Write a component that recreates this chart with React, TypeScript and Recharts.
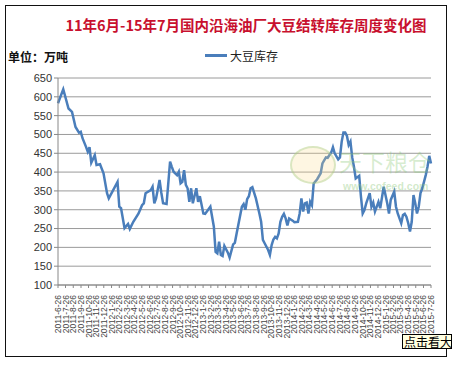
import { LineChart, Line, XAxis, YAxis, CartesianGrid, Legend } from "recharts";

// weeks counted from 2011-6-26, soybean stock in 10k tonnes
const weeks = [
  0, 3, 6, 8, 10, 12, 13, 14, 16, 17, 18, 19, 21, 22, 24, 26, 28, 29, 34, 35,
  36, 38, 40, 41, 43, 46, 48, 49, 50, 53, 54, 55, 56, 58, 59, 60, 62, 64, 65, 66,
  68, 69, 70, 71, 72, 73, 74, 75, 76, 77, 79, 80, 81, 83, 84, 87, 89, 90, 91, 92,
  93, 94, 95, 97, 98, 100, 101, 102, 105, 106, 107, 108, 109, 110, 111, 113, 115,
  116, 117, 118, 120, 121, 122, 123, 124, 125, 126, 127, 128, 129, 130, 131, 132,
  134, 135, 137, 138, 139, 140, 141, 142, 143, 144, 145, 146, 148, 150, 151, 153,
  154, 156, 157, 158, 160, 161, 162, 163, 164, 165, 166, 167, 168, 169, 170, 172,
  173, 174, 175, 176, 178, 179, 180, 181, 183, 184, 186, 188, 189, 190, 192, 193,
  194, 196, 197, 198, 199, 200, 201, 202, 203, 204, 205, 206, 207, 208, 209, 210,
  211, 212, 213,
];

const stock = [
  583, 620, 569, 560, 520, 505, 507, 490, 467, 454, 466, 425, 445, 419, 421, 397,
  344, 330, 374, 308, 304, 251, 262, 249, 268, 290, 312, 317, 344, 352, 361, 317,
  330, 379, 345, 317, 315, 428, 414, 401, 392, 401, 370, 374, 405, 366, 357, 321,
  357, 317, 357, 321, 336, 290, 289, 308, 255, 188, 184, 215, 180, 177, 204, 186,
  173, 208, 212, 237, 308, 315, 300, 328, 336, 357, 360, 330, 290, 268, 220, 211,
  193, 180, 206, 221, 228, 224, 237, 268, 281, 289, 277, 258, 277, 271, 267, 268,
  290, 330, 295, 317, 319, 290, 321, 312, 370, 381, 397, 423, 439, 438, 452, 466,
  450, 434, 439, 481, 505, 505, 496, 472, 481, 439, 414, 383, 390, 335, 290, 299,
  317, 344, 308, 319, 295, 321, 304, 361, 317, 290, 326, 348, 308, 290, 264, 286,
  289, 281, 264, 242, 268, 339, 317, 290, 308, 344, 357, 374, 392, 414, 443, 423,
];

const dateLabels = [
  "2011-6-26", "2011-7-26", "2011-8-26", "2011-9-26", "2011-10-26", "2011-11-26", "2011-12-26",
  "2012-1-26", "2012-2-26", "2012-3-26", "2012-4-26", "2012-5-26", "2012-6-26",
  "2012-7-26", "2012-8-26", "2012-9-26", "2012-10-26", "2012-11-26", "2012-12-26",
  "2013-1-26", "2013-2-26", "2013-3-26", "2013-4-26", "2013-5-26", "2013-6-26",
  "2013-7-26", "2013-8-26", "2013-9-26", "2013-10-26", "2013-11-26", "2013-12-26",
  "2014-1-26", "2014-2-26", "2014-3-26", "2014-4-26", "2014-5-26", "2014-6-26",
  "2014-7-26", "2014-8-26", "2014-9-26", "2014-10-26", "2014-11-26", "2014-12-26",
  "2015-1-26", "2015-2-26", "2015-3-26", "2015-4-26", "2015-5-26", "2015-6-26", "2015-7-26",
];

const yTicks = [100, 150, 200, 250, 300, 350, 400, 450, 500, 550, 600, 650];

const toWeek = (s: string) => {
  const [y, m, d] = s.split("-").map(Number);
  return (Date.UTC(y, m - 1, d) - Date.UTC(2011, 5, 26)) / (7 * 86400000);
};

const tickWeeks = dateLabels.map(toWeek);
const labelByWeek = new Map(tickWeeks.map((w, i) => [w, dateLabels[i]]));

const data = weeks.map((w, i) => ({ week: w, stock: stock[i] }));

const font = "'Liberation Sans', Arial, sans-serif";
const cjk = "'Noto Sans CJK SC', 'Noto Sans', sans-serif";

function DateTick({ x, y, payload }: any) {
  return (
    <text
      x={x}
      y={y + 5}
      transform={`rotate(-90 ${x} ${y + 5})`}
      textAnchor="end"
      dominantBaseline="central"
      fontSize={8.5}
      fontFamily={font}
      fill="#444"
    >
      {labelByWeek.get(payload.value) ?? ""}
    </text>
  );
}

export default function App() {
  return (
    <div
      style={{
        position: "absolute",
        left: 0,
        top: 0,
        width: 452,
        height: 366,
        background: "#fff",
      }}
    >
      <div
        style={{
          position: "absolute",
          left: 5,
          top: 5,
          width: 440,
          height: 350,
          border: "1.5px solid #111",
        }}
      />
      <div
        style={{
          position: "absolute",
          left: 0,
          width: 492,
          top: 14,
          textAlign: "center",
          color: "#c8102e",
          fontWeight: "bold",
          fontSize: 14.5,
          fontFamily: cjk,
          whiteSpace: "nowrap",
        }}
      >
        11年6月-15年7月国内沿海油厂大豆结转库存周度变化图
      </div>
      <div
        style={{
          position: "absolute",
          left: 8,
          top: 48,
          fontSize: 12,
          fontWeight: "bold",
          fontFamily: cjk,
          color: "#111",
        }}
      >
        单位：万吨
      </div>

      <LineChart
        width={452}
        height={366}
        data={data}
        margin={{ top: 78, right: 21, bottom: 21, left: 0 }}
        style={{ position: "absolute", left: 0, top: 0 }}
      >
        <CartesianGrid vertical={false} stroke="#9a9a9a" strokeWidth={1} />
        <XAxis
          dataKey="week"
          type="number"
          domain={[0, 213]}
          ticks={tickWeeks}
          interval={0}
          height={60}
          axisLine={{ stroke: "#888" }}
          tickLine={{ stroke: "#888" }}
          tickSize={3}
          tick={<DateTick />}
        />
        <YAxis
          domain={[100, 650]}
          ticks={yTicks}
          interval={0}
          width={58}
          axisLine={{ stroke: "#888" }}
          tickLine={{ stroke: "#888" }}
          tickSize={4}
          tick={{ fontSize: 11, fill: "#333", fontFamily: font }}
        />
        <Legend
          verticalAlign="middle"
          align="center"
          wrapperStyle={{ top: 47, left: 205, width: 100 }}
          content={() => (
            <div style={{ display: "flex", alignItems: "center", fontFamily: cjk, fontSize: 12, color: "#222" }}>
              <span style={{ width: 22, height: 3, background: "#4a7ebb", marginRight: 3 }} />
              大豆库存
            </div>
          )}
        />
        <Line
          dataKey="stock"
          type="linear"
          stroke="#4a7ebb"
          strokeWidth={2.5}
          dot={false}
          isAnimationActive={false}
        />
      </LineChart>

      <div
        style={{
          position: "absolute",
          left: 290,
          top: 146,
          width: 42,
          height: 34,
          borderRadius: "50%",
          border: "2px solid rgba(150,200,130,0.35)",
          background: "rgba(250,220,140,0.25)",
        }}
      />
      <div
        style={{
          position: "absolute",
          left: 339,
          top: 149,
          fontSize: 23,
          lineHeight: "24px",
          fontFamily: cjk,
          color: "rgba(140,200,120,0.35)",
          whiteSpace: "nowrap",
        }}
      >
        天下粮仓
      </div>
      <div
        style={{
          position: "absolute",
          left: 343,
          top: 181,
          fontSize: 10.5,
          lineHeight: "11px",
          fontWeight: "bold",
          fontFamily: font,
          color: "rgba(140,200,120,0.4)",
        }}
      >
        www.cofeed.com
      </div>

      <div
        style={{
          position: "absolute",
          left: 402,
          top: 334,
          width: 50,
          height: 15,
          background: "#ffffe1",
          border: "1px solid #000",
          boxSizing: "border-box",
          fontSize: 12,
          lineHeight: "13px",
          fontFamily: cjk,
          color: "#000",
          whiteSpace: "nowrap",
          overflow: "hidden",
          paddingLeft: 1,
        }}
      >
        点击看大
      </div>
    </div>
  );
}
